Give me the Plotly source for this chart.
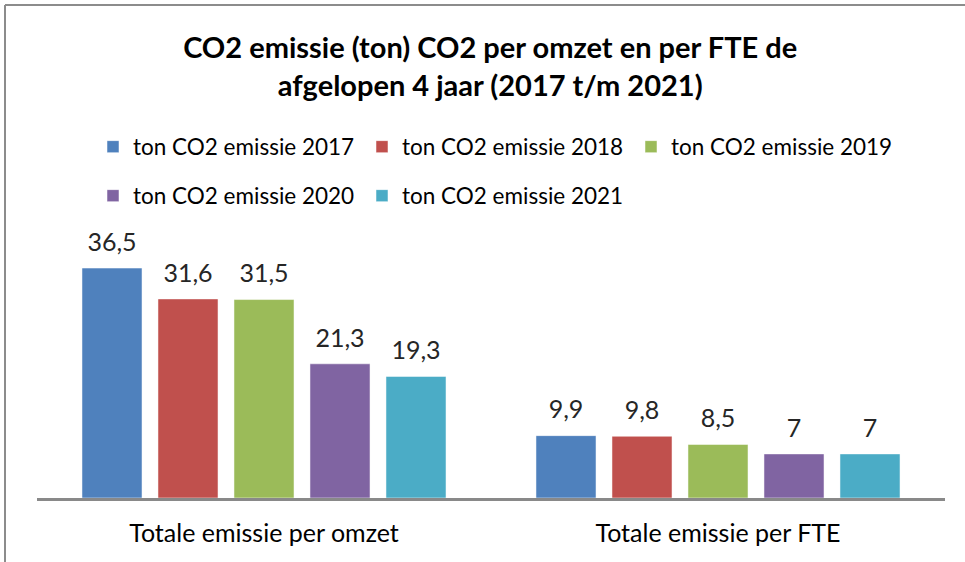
import plotly.graph_objects as go

categories = ["Totale emissie per omzet", "Totale emissie per FTE"]
series_names = ["ton CO2 emissie 2017", "ton CO2 emissie 2018", "ton CO2 emissie 2019",
                "ton CO2 emissie 2020", "ton CO2 emissie 2021"]
values_2017 = [36.5, 9.9]
values_2018 = [31.6, 9.8]
values_2019 = [31.5, 8.5]
values_2020 = [21.3, 7.0]
values_2021 = [19.3, 7.0]
colors = ["#4F81BD", "#C0504D", "#9BBB59", "#8064A2", "#4BACC6"]

all_values = [values_2017, values_2018, values_2019, values_2020, values_2021]

W, H = 965, 562
L, R, T, B = 37, 20, 246, 64
FONT = "Lato, 'Open Sans', sans-serif"
BARGAP = 0.163


def fmt(v):
    return ("%g" % v).replace(".", ",")


fig = go.Figure()
for i, (name, vals, col) in enumerate(zip(series_names, all_values, colors)):
    fig.add_trace(go.Bar(
        x=categories, y=vals, name=name,
        marker=dict(color=col, line=dict(color="rgba(255,255,255,0.5)", width=1)),
        legend="legend" if i < 3 else "legend2",
        hoverinfo="skip",
    ))
for i, vals in enumerate(all_values):
    fig.add_trace(go.Scatter(
        x=categories, y=vals, mode="text+markers",
        marker=dict(size=16, opacity=0, color="white"),
        text=[fmt(v) for v in vals], textposition="top center",
        textfont=dict(size=25, color="#262626", family=FONT),
        showlegend=False, cliponaxis=False, hoverinfo="skip",
    ))

# border lines (paper coords)
pw, ph = W - L - R, H - T - B


def px2x(px):
    return (px - L) / pw


def py2y(py):
    return (H - B - py) / ph


border = dict(color="#8C8C8C", width=2)
shapes = [
    dict(type="line", xref="paper", yref="paper", x0=px2x(5), x1=px2x(965), y0=py2y(5), y1=py2y(5), line=border),
    dict(type="line", xref="paper", yref="paper", x0=px2x(5), x1=px2x(5), y0=py2y(5), y1=py2y(562), line=border),
]

legend_common = dict(
    orientation="h", xref="container", yref="container", xanchor="left", yanchor="middle",
    font=dict(size=22.5, family=FONT, color="#000000"), entrywidth=224, entrywidthmode="pixels",
    bgcolor="rgba(0,0,0,0)", traceorder="normal", itemclick=False,
)

fig.update_layout(
    width=W, height=H,
    margin=dict(l=L, r=R, t=T, b=B, pad=0),
    paper_bgcolor="white", plot_bgcolor="white",
    separators=",.",
    barmode="group", bargap=BARGAP, bargroupgap=0.21,
    scattermode="group", scattergap=BARGAP,
    title=dict(
        text="<b>CO2 emissie (ton) CO2 per omzet en per FTE de<br>afgelopen 4 jaar (2017 t/m 2021)</b>",
        x=0.508, xanchor="center", xref="container", y=1 - 58 / H, yanchor="middle", yref="container",
        font=dict(size=29, family=FONT, color="#000000"),
    ),
    showlegend=True,
    legend=dict(x=(107 - 14) / W, y=1 - 147 / H, **legend_common),
    legend2=dict(x=(107 - 14) / W, y=1 - 196 / H, **legend_common),
    xaxis=dict(showline=True, linecolor="#898989", linewidth=2.5, ticks="", showgrid=False,
               tickfont=dict(size=25, family=FONT, color="#000000"), ticklabelstandoff=11),
    yaxis=dict(range=[0, 40], showgrid=False, zeroline=False, showticklabels=False, showline=False),
    shapes=shapes,
)

fig.write_html("out.html", config={"displayModeBar": False},
               post_script="document.body.style.margin='0px';")
